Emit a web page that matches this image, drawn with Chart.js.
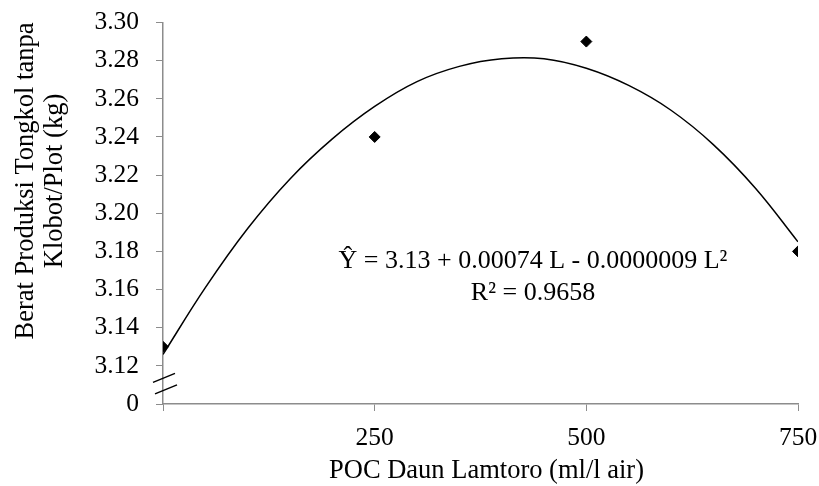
<!DOCTYPE html>
<html>
<head>
<meta charset="utf-8">
<script src="https://cdn.jsdelivr.net/npm/chart.js@4/dist/chart.umd.min.js"></script>
<style>
  html, body { margin: 0; padding: 0; background: #fff; }
  #wrap { width: 819px; height: 486px; position: relative; }
</style>
</head>
<body>
<div id="wrap"><canvas id="c" width="819" height="486"></canvas></div>
<script>
// Observed data
const doseLevels = [0, 250, 500, 750];
const yieldValues = [3.13, 3.24, 3.29, 3.18];

// Fitted quadratic trendline
const trendX = [0, 50, 100, 150, 200, 250, 300, 350, 400, 450, 500, 550, 600, 650, 700, 750];
const trendY = [3.126, 3.161, 3.192, 3.218, 3.239, 3.256, 3.269, 3.277, 3.281, 3.281, 3.276, 3.267, 3.254, 3.236, 3.213, 3.185];

// Tick labels
const xTickValues = [0, 250, 500, 750];
const xTickLabels = ['', '250', '500', '750'];
const yBreakValue = 3.10;
const yBreakLabel = '0';

const xTitle = 'POC Daun Lamtoro (ml/l air)';
const yTitleLines = ['Berat Produksi Tongkol tanpa', 'Klobot/Plot (kg)'];
const equationLines = ['Ŷ = 3.13 + 0.00074 L - 0.0000009 L²', 'R² = 0.9658'];

const FONT = '"Liberation Serif", "Times New Roman", serif';
const AXIS_COLOR = '#8c8c8c';

function zeroPadding(scale) {
  scale.paddingTop = 0; scale.paddingBottom = 0;
  scale.paddingLeft = 0; scale.paddingRight = 0;
}

const decorPlugin = {
  id: 'decor',
  afterDraw(chart) {
    const ctx = chart.ctx;
    const xs = chart.scales.x, ys = chart.scales.y;
    ctx.save();
    // axis break marks
    const x0 = xs.getPixelForValue(0);
    const yc = ys.getPixelForValue((yBreakValue + 3.12) / 2);
    ctx.strokeStyle = '#000';
    ctx.lineWidth = 1.5;
    ctx.beginPath();
    ctx.moveTo(x0 - 10, yc - 2.5); ctx.lineTo(x0 + 12, yc - 11.5);
    ctx.moveTo(x0 - 8, yc + 9); ctx.lineTo(x0 + 14, yc + 0);
    ctx.stroke();

    // equation text
    ctx.fillStyle = '#000';
    ctx.font = '26px ' + FONT;
    ctx.textAlign = 'center';
    ctx.textBaseline = 'alphabetic';
    const ex = xs.getPixelForValue(437);
    ctx.fillText(equationLines[0], ex, ys.getPixelForValue(3.1715));
    ctx.fillText(equationLines[1], ex, ys.getPixelForValue(3.1547));

    // y axis title (two lines, rotated)
    ctx.save();
    ctx.font = '26.5px ' + FONT;
    ctx.translate(33, 181);
    ctx.rotate(-Math.PI / 2);
    ctx.fillText(yTitleLines[0], 0, 0);
    ctx.fillText(yTitleLines[1], 0, 29);
    ctx.restore();

    // x axis title
    ctx.font = '26.5px ' + FONT;
    ctx.fillText(xTitle, 486.5, 478);
    ctx.restore();
  }
};

new Chart(document.getElementById('c'), {
  type: 'scatter',
  data: {
    datasets: [
      {
        label: 'Trend',
        type: 'line',
        data: trendX.map((x, i) => ({ x, y: trendY[i] })),
        borderColor: '#000',
        borderWidth: 1.5,
        pointRadius: 0,
        tension: 0.4,
        fill: false,
        order: 2
      },
      {
        label: 'Observed',
        data: doseLevels.map((x, i) => ({ x, y: yieldValues[i] })),
        pointStyle: 'rectRot',
        pointRadius: 5.5,
        pointBackgroundColor: '#000',
        pointBorderColor: '#000',
        showLine: false,
        order: 1
      }
    ]
  },
  options: {
    responsive: false,
    animation: false,
    devicePixelRatio: 1,
    layout: { autoPadding: false, padding: { left: 0, top: 22.5, right: 21, bottom: 0 } },
    plugins: { legend: { display: false }, tooltip: { enabled: false } },
    scales: {
      x: {
        type: 'linear',
        min: 0, max: 750,
        afterBuildTicks(scale) { scale.ticks = xTickValues.map(v => ({ value: v })); },
        ticks: {
          callback(v) { const i = xTickValues.indexOf(v); return i >= 0 ? xTickLabels[i] : ''; },
          font: { family: FONT, size: 25.5 },
          color: '#000',
          padding: 12,
          maxRotation: 0,
          autoSkip: false
        },
        grid: { drawOnChartArea: false, drawTicks: true, tickLength: 7, color: AXIS_COLOR },
        border: { color: AXIS_COLOR, width: 1.5 },
        afterFit(scale) { scale.height = 82; zeroPadding(scale); }
      },
      y: {
        type: 'linear',
        min: 3.10, max: 3.30,
        ticks: {
          stepSize: 0.02,
          callback(v) { return Math.abs(v - yBreakValue) < 1e-6 ? yBreakLabel : Number(v).toFixed(2); },
          font: { family: FONT, size: 25.5 },
          color: '#000',
          padding: 17
        },
        grid: { drawOnChartArea: false, drawTicks: true, tickLength: 7, color: AXIS_COLOR },
        border: { color: AXIS_COLOR, width: 1.5 },
        afterFit(scale) { scale.width = 163; zeroPadding(scale); }
      }
    }
  },
  plugins: [decorPlugin]
});
</script>
</body>
</html>
